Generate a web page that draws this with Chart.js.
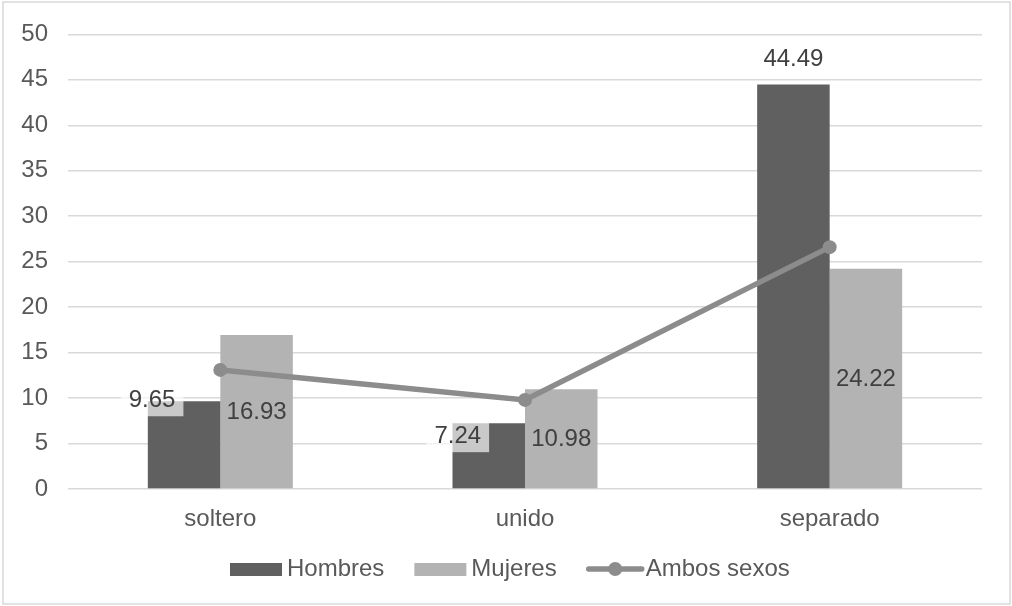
<!DOCTYPE html>
<html>
<head>
<meta charset="utf-8">
<script src="https://cdn.jsdelivr.net/npm/chart.js@4/dist/chart.umd.min.js"></script>
<style>
  html, body { margin: 0; padding: 0; background: #fff; }
  #wrap { width: 1012px; height: 606px; position: relative; }
</style>
</head>
<body>
<div id="wrap"><canvas id="estadoChart"></canvas></div>
<script>
// estado civil
const categorias = ['soltero', 'unido', 'separado'];
const hombres = [9.65, 7.24, 44.49];
const mujeres = [16.93, 10.98, 24.22];
const ambos = [13.1, 9.8, 26.6];

const FONT = '"Liberation Sans", Arial, sans-serif';
const axisGray = '#595959';
const labelGray = '#404040';
const gridGray = '#d9d9d9';
const colHombres = '#606060';
const colMujeres = '#b3b3b3';
const colAmbos = '#8c8c8c';

// offsets of the Hombres labels from the bar top (they sit to the left on two bars)
const hombresLabelShift = [[-32, -2], [-31, 12], [0, -26]];

//value labels: Hombres with a soft white box, Mujeres centred in the bar
const valueLabels = {
  id: 'valueLabels',
  afterDatasetsDraw(chart) {
    const ctx = chart.ctx;
    ctx.save();
    ctx.font = '24px ' + FONT;
    ctx.textAlign = 'center';
    ctx.textBaseline = 'middle';
    chart.getDatasetMeta(0).data.forEach(function (bar, i) {
      var txt = hombres[i].toFixed(2);
      var x = bar.x + hombresLabelShift[i][0];
      var y = bar.y + hombresLabelShift[i][1];
      var w = ctx.measureText(txt).width + 16;
      ctx.fillStyle = 'rgba(255,255,255,0.66)';
      ctx.fillRect(x - w / 2, y - 17, w, 34);
      ctx.fillStyle = labelGray;
      ctx.fillText(txt, x, y + 1);
    });
    chart.getDatasetMeta(1).data.forEach(function (bar, i) {
      var txt = mujeres[i].toFixed(2);
      ctx.fillStyle = labelGray;
      ctx.fillText(txt, bar.x, (bar.y + bar.base) / 2 + 1);
    });
    ctx.restore();
  }
};

// outer frame + legend under the axis
const frameLegend = {
  id: 'frameLegend',
  afterDraw(chart) {
    const ctx = chart.ctx;
    ctx.save();
    ctx.strokeStyle = gridGray;
    ctx.lineWidth = 1.5;
    ctx.strokeRect(3, 2, 1007, 602);

    ctx.font = '24px ' + FONT;
    ctx.textBaseline = 'middle';
    ctx.textAlign = 'left';
    var y = 569;
    var x = 230;
    var items = [
      {text: 'Hombres', type: 'box', color: colHombres},
      {text: 'Mujeres', type: 'box', color: colMujeres},
      {text: 'Ambos sexos', type: 'line', color: colAmbos}
    ];
    items.forEach(function (it) {
      if (it.type == 'box') {
        ctx.fillStyle = it.color;
        ctx.fillRect(x, y - 6, 52, 13);
        x += 57;
      } else {
        ctx.strokeStyle = it.color;
        ctx.lineWidth = 5.5;
        ctx.lineCap = 'round';
        ctx.beginPath();
        ctx.moveTo(x + 2, y);
        ctx.lineTo(x + 55, y);
        ctx.stroke();
        ctx.fillStyle = it.color;
        ctx.beginPath();
        ctx.arc(x + 28.5, y, 7, 0, Math.PI * 2);
        ctx.fill();
        x += 59;
      }
      ctx.fillStyle = axisGray;
      ctx.fillText(it.text, x, y);
      x += ctx.measureText(it.text).width + 30;
    });
    ctx.restore();
  }
};

const data = {
  labels: categorias,
  datasets: [
    {
      type: 'bar',
      label: 'Hombres',
      data: hombres,
      backgroundColor: colHombres,
      order: 2
    },
    {
      type: 'bar',
      label: 'Mujeres',
      data: mujeres,
      backgroundColor: colMujeres,
      order: 2
    },
    {
      type: 'line',
      label: 'Ambos sexos',
      data: ambos,
      borderColor: colAmbos,
      backgroundColor: colAmbos,
      borderWidth: 5.5,
      pointRadius: 7,
      pointBorderWidth: 0,
      pointBackgroundColor: colAmbos,
      tension: 0,
      order: 0
    }
  ]
};

const config = {
  type: 'bar',
  data: data,
  options: {
    responsive: true,
    maintainAspectRatio: false,
    animation: false,
    layout: { padding: { left: 0, right: 30, top: 31, bottom: 0 } },
    datasets: {
      bar: { categoryPercentage: 0.476, barPercentage: 1 }
    },
    plugins: {
      legend: { display: false },
      tooltip: { enabled: false }
    },
    scales: {
      x: {
        grid: { display: false, drawTicks: false },
        border: { display: false },
        ticks: {
          color: axisGray,
          font: { family: FONT, size: 24 },
          padding: 16
        },
        afterFit(scale) { scale.height = 117; }
      },
      y: {
        min: 0,
        max: 50,
        grid: { color: gridGray, lineWidth: 1.5, drawTicks: false },
        border: { display: false },
        ticks: {
          stepSize: 5,
          color: axisGray,
          font: { family: FONT, size: 24 },
          padding: 20
        },
        afterFit(scale) { scale.width = 68; }
      }
    }
  },
  plugins: [valueLabels, frameLegend]
};

const myChart = new Chart(document.getElementById('estadoChart'), config);
</script>
</body>
</html>
